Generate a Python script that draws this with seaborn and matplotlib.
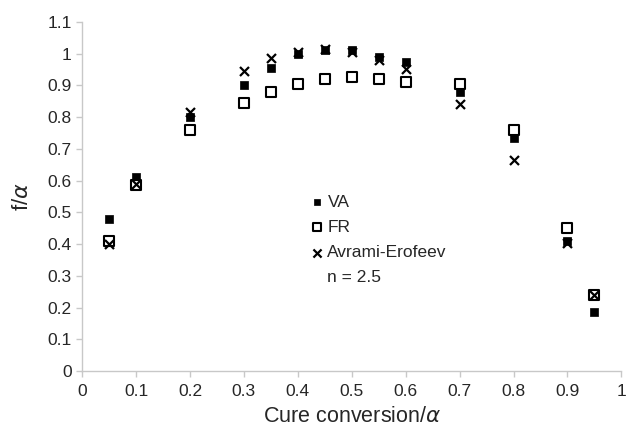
import matplotlib
matplotlib.use("Agg")
import matplotlib.pyplot as plt
from matplotlib.lines import Line2D
import seaborn as sns
import pandas as pd

conversion = [0.05, 0.1, 0.2, 0.3, 0.35, 0.4, 0.45, 0.5, 0.55, 0.6, 0.7, 0.8, 0.9, 0.95]
va = [0.48, 0.61, 0.80, 0.90, 0.955, 1.0, 1.01, 1.01, 0.99, 0.975, 0.88, 0.735, 0.41, 0.185]
fr = [0.41, 0.585, 0.76, 0.845, 0.88, 0.905, 0.92, 0.925, 0.92, 0.91, 0.905, 0.76, 0.45, 0.24]
ae = [0.40, 0.59, 0.815, 0.945, 0.985, 1.005, 1.015, 1.005, 0.98, 0.95, 0.84, 0.665, 0.405, 0.24]
x_ticks = [0, 0.1, 0.2, 0.3, 0.4, 0.5, 0.6, 0.7, 0.8, 0.9, 1]
y_ticks = [0, 0.1, 0.2, 0.3, 0.4, 0.5, 0.6, 0.7, 0.8, 0.9, 1, 1.1]

sns.set_style("ticks")
plt.rcParams['font.family'] = ['Liberation Sans', 'DejaVu Sans']
plt.rcParams['mathtext.fontset'] = 'dejavusans'

df = pd.DataFrame({"x": conversion, "VA": va, "FR": fr, "AE": ae})

fig, ax = plt.subplots(figsize=(6.27, 4.29), dpi=100)
fig.subplots_adjust(left=0.131, right=0.991, bottom=0.135, top=0.949)

sns.scatterplot(data=df, x="x", y="VA", marker="s", s=30, color="black",
                edgecolor="black", linewidth=0.5, ax=ax, label="VA", zorder=3)
sns.scatterplot(data=df, x="x", y="FR", marker="s", s=45, facecolor="white",
                edgecolor="black", linewidth=1.5, ax=ax, label="FR", zorder=4)
sns.scatterplot(data=df, x="x", y="AE", marker="x", s=42, color="black",
                linewidth=1.6, ax=ax, label="Avrami-Erofeev", zorder=5)

ax.set_xlim(0, 1)
ax.set_ylim(0, 1.1)
ax.set_xticks(x_ticks)
ax.set_xticklabels([("%g" % t) for t in x_ticks])
ax.set_yticks(y_ticks)
ax.set_yticklabels([("%g" % t) for t in y_ticks])
ax.tick_params(axis='both', labelsize=12.5, color="#c8c8c8", length=4, width=1)
ax.tick_params(axis='x', pad=5)
for side in ["top", "right"]:
    ax.spines[side].set_visible(False)
for side in ["left", "bottom"]:
    ax.spines[side].set_color("#c8c8c8")
    ax.spines[side].set_linewidth(1)

ax.set_xlabel(r"Cure conversion/$\alpha$", size=15.5, labelpad=5)
ax.set_ylabel(r"f/$\alpha$", size=16, labelpad=10)

handles, labels = ax.get_legend_handles_labels()
handles.append(Line2D([], [], linestyle="none"))
labels.append("n = 2.5")
ax.legend(handles, labels, loc="upper left", bbox_to_anchor=(0.397, 0.54),
          frameon=False, fontsize=12.5, handletextpad=0.1, labelspacing=0.58,
          borderpad=0.2, handlelength=1.0, markerscale=0.9)

plt.savefig("out.png", dpi=100)
